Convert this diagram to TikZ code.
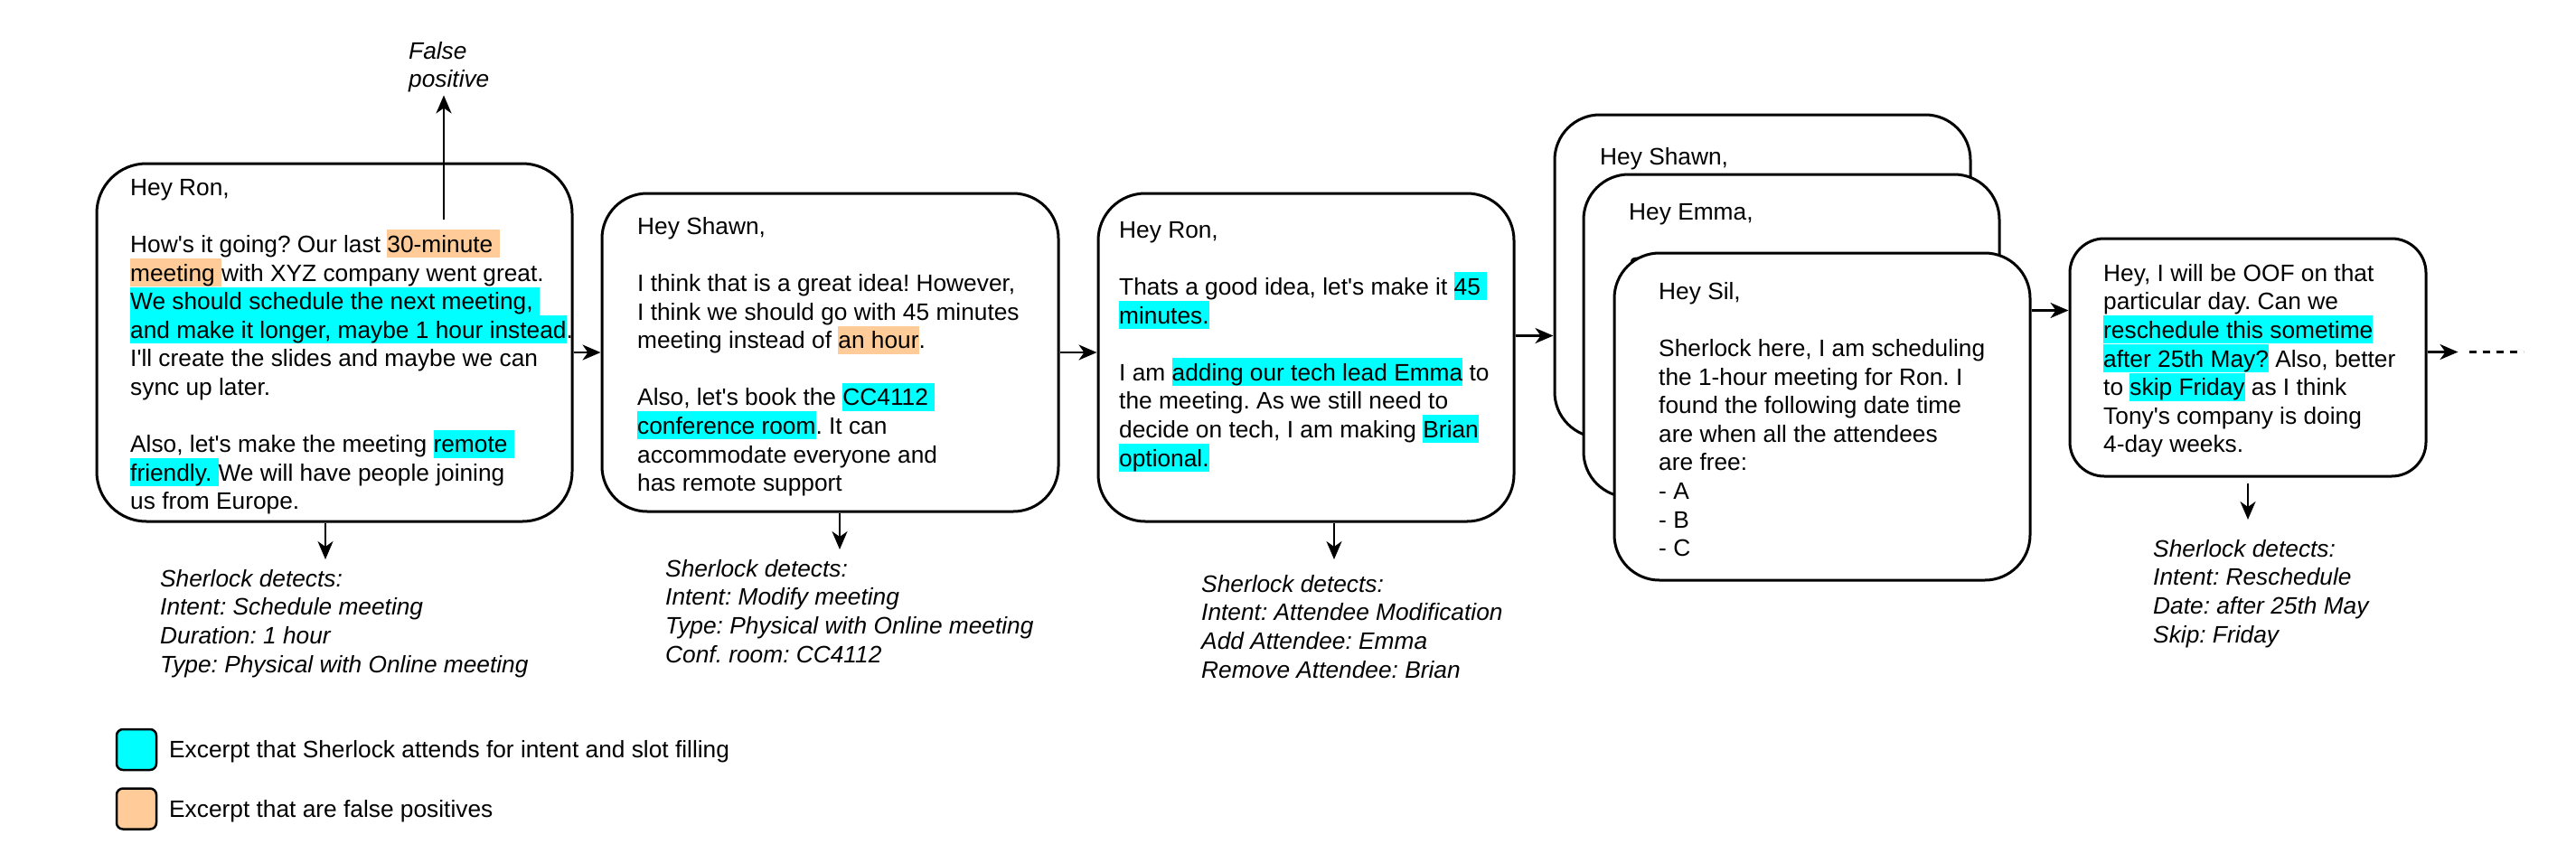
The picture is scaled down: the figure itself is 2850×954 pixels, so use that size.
\documentclass[tikz,border=0pt]{standalone}
\usepackage{fontspec}
\setmainfont{Liberation Sans}
\usetikzlibrary{arrows.meta,calc}
\definecolor{hlcyan}{HTML}{00FFFF}
\definecolor{hlorange}{HTML}{FFCC99}
\setlength{\fboxsep}{0pt}
\frenchspacing
\newcommand\mainsz{\fontsize{26.3}{31.6}\selectfont}
\newcommand\hlstrut{\rule[-6pt]{0pt}{31pt}}
\newcommand\hlc[1]{\colorbox{hlcyan}{\hlstrut#1}}
\newcommand\hlo[1]{\colorbox{hlorange}{\hlstrut#1}}
\newcommand\ap{\textquotesingle}
\tikzset{
  card/.style={draw, line width=3pt, fill=white, rounded corners=#1, inner sep=0pt},
  txt/.style={anchor=north west, inner sep=0pt, align=left, font=\mainsz},
  dettxt/.style={anchor=north west, inner sep=0pt, align=left, font=\mainsz\itshape},
  legbox/.style={draw, line width=2.5pt, rounded corners=7pt, minimum width=44pt, minimum height=45pt, inner sep=0pt},
  arr/.style={line width=2.5pt, -{Stealth[length=20pt,width=17pt,inset=6pt]}},
  dashline/.style={line width=2.5pt, dash pattern=on 8pt off 7pt},
}
\begin{document}
\frenchspacing
\begin{tikzpicture}[x=1pt,y=-1pt]
\useasboundingbox (0,0) rectangle (2850,954);

% ---------- box 1
\node[card=55pt, minimum width=526pt, minimum height=396pt] (b1) at (370,379) {};
\node[txt] (t1) at (144,191) {\hlstrut Hey Ron,\\[31.6pt]
How\ap s it going? Our last \hlo{30-minute\ }\\
\hlo{meeting\ }with XYZ company went great.\\
\hlc{We should schedule the next meeting,\ }\\
\hlc{and make it longer, maybe 1 hour instead}.\\
I\ap ll create the slides and maybe we can\\
sync up later.\\[31.6pt]
Also, let\ap s make the meeting \hlc{remote\ }\\
\hlc{friendly.\ }We will have people joining\\
us from Europe.};

% false positive
\node[dettxt] (fp) at (452,40) {\hlstrut False\\positive};
\coordinate (fpsrc) at (491,243);
\draw[arr, shorten >=3pt] (fpsrc) -- (fpsrc |- fp.south);

% ---------- box 2
\node[card=50pt, minimum width=505pt, minimum height=352pt] (b2) at (918.5,390) {};
\node[txt] (t2) at (705,234) {\hlstrut Hey Shawn,\\[31.6pt]
I think that is a great idea! However,\\
I think we should go with 45 minutes\\
meeting instead of \hlo{an hour}.\\[31.6pt]
Also, let\ap s book the \hlc{CC4112\ }\\
\hlc{conference room}. It can\\
accommodate everyone and\\
has remote support};

% ---------- box 3
\node[card=52pt, minimum width=460pt, minimum height=363pt] (b3) at (1445,395.5) {};
\node[txt] (t3) at (1238,238) {\hlstrut Hey Ron,\\[31.6pt]
Thats a good idea, let\ap s make it \hlc{45\ }\\
\hlc{minutes.}\\[31.6pt]
I am \hlc{adding our tech lead Emma} to\\
the meeting. As we still need to\\
decide on tech, I am making \hlc{Brian}\\
\hlc{optional.}};

% ---------- stack of cards
\node[card=50pt, minimum width=460pt, minimum height=357pt] (shawn) at (1950,305.5) {};
\node[txt] (tshawn) at (1770,157) {\hlstrut Hey Shawn,};
\node[card=50pt, minimum width=460pt, minimum height=357pt] (emma) at (1982,371.5) {};
\node[txt] (temma) at (1802,218) {\hlstrut Hey Emma,\\[29pt]
Sherlock here, I am scheduling};
\node[card=50pt, minimum width=460pt, minimum height=362pt] (sil) at (2016,461) {};
\node[txt] (tsil) at (1835,306) {\hlstrut Hey Sil,\\[31.6pt]
Sherlock here, I am scheduling\\
the 1-hour meeting for Ron. I\\
found the following date time\\
are when all the attendees\\
are free:\\
- A\\
- B\\
- C};

% ---------- box 5
\node[card=38pt, minimum width=394pt, minimum height=263pt] (b5) at (2487,395.5) {};
\node[txt] (t5) at (2327,286) {\hlstrut Hey, I will be OOF on that\\
particular day. Can we\\
\hlc{reschedule this sometime}\\
\hlc{after 25th May?} Also, better\\
to \hlc{skip Friday} as I think\\
Tony\ap s company is doing\\
4-day weeks.};

% ---------- horizontal connectors
\draw[arr] (b1.east |- b2.west) -- (b2.west);
\draw[arr] (b2.east) -- (b2.east -| b3.west);
\draw[arr] (b3.east |- emma.west) -- (shawn.west |- emma.west);
\coordinate (s5) at ([yshift=-65pt]sil.north east);
\draw[arr] (s5) -- (s5 -| b5.west);
\coordinate (e5) at ([yshift=6pt]b5.east);
\coordinate (e5end) at ([xshift=34pt]e5);
\draw[arr] (e5) -- (e5end);
\coordinate (dsh1) at ([xshift=12pt]e5end);
\coordinate (dsh2) at ([xshift=72pt]e5end);
\draw[dashline] (dsh1) -- (dsh2);

% ---------- detections
\node[dettxt] (det1) at (177,624) {\hlstrut Sherlock detects:\\
Intent: Schedule meeting\\
Duration: 1 hour\\
Type: Physical with Online meeting};
\node[dettxt] (det2) at (736,613) {\hlstrut Sherlock detects:\\
Intent: Modify meeting\\
Type: Physical with Online meeting\\
Conf. room: CC4112};
\node[dettxt] (det3) at (1329,630) {\hlstrut Sherlock detects:\\
Intent: Attendee Modification\\
Add Attendee: Emma\\
Remove Attendee: Brian};
\node[dettxt] (det5) at (2382,591) {\hlstrut Sherlock detects:\\
Intent: Reschedule\\
Date: after 25th May\\
Skip: Friday};

\coordinate (d1s) at ([xshift=-10pt]b1.south);
\draw[arr, shorten >=5pt] (d1s) -- (d1s |- det1.north);
\coordinate (d2s) at ([xshift=10.5pt]b2.south);
\draw[arr, shorten >=5pt] (d2s) -- (d2s |- det2.north);
\coordinate (d3s) at ([xshift=31pt]b3.south);
\draw[arr, shorten >=11pt] (d3s) -- (d3s |- det3.north);
\coordinate (d5s) at (b5.south);
\draw[arr, shorten <=6pt, shorten >=16pt] (d5s) -- (d5s |- det5.north);

% ---------- legend
\node[legbox, fill=hlcyan] (leg1) at (151,829.5) {};
\node[anchor=base west, inner sep=0pt, font=\mainsz] (legt1) at (187,838) {Excerpt that Sherlock attends for intent and slot filling};
\node[legbox, fill=hlorange] (leg2) at (151,895) {};
\node[anchor=base west, inner sep=0pt, font=\mainsz] (legt2) at (187,904) {Excerpt that are false positives};
\end{tikzpicture}
\end{document}
